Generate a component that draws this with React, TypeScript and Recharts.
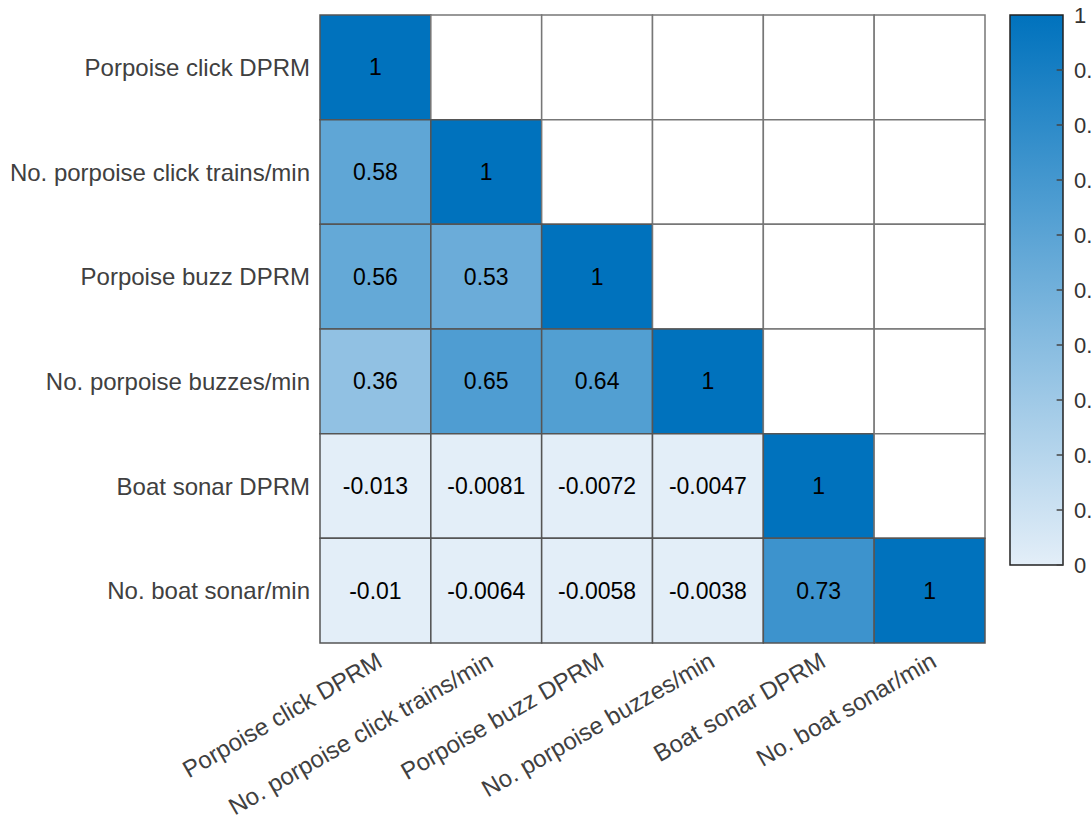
import { ComposedChart, XAxis, YAxis, ReferenceArea, ReferenceLine, Scatter } from 'recharts'

const labels = [
  'Porpoise click DPRM',
  'No. porpoise click trains/min',
  'Porpoise buzz DPRM',
  'No. porpoise buzzes/min',
  'Boat sonar DPRM',
  'No. boat sonar/min',
]

// lower triangle of the correlation matrix, row by row
const row0 = [1]
const row1 = [0.58, 1]
const row2 = [0.56, 0.53, 1]
const row3 = [0.36, 0.65, 0.64, 1]
const row4 = [-0.013, -0.0081, -0.0072, -0.0047, 1]
const row5 = [-0.01, -0.0064, -0.0058, -0.0038, 0.73, 1]
const rows = [row0, row1, row2, row3, row4, row5]

const cellTicks = [0.5, 1.5, 2.5, 3.5, 4.5, 5.5]
const cbTicks = [0, 0.1, 0.2, 0.3, 0.4, 0.5, 0.6, 0.7, 0.8, 0.9, 1]

const LOW = [227, 238, 248]
const HIGH = [0, 114, 189]

function color(v: number) {
  const t = Math.max(0, Math.min(1, v))
  const c = LOW.map((l, i) => Math.round(l + (HIGH[i] - l) * t))
  return `rgb(${c[0]},${c[1]},${c[2]})`
}

const font = '"Liberation Sans", Arial, Helvetica, sans-serif'
const n = labels.length

const points = rows.flatMap((row, r) => row.map((v, c) => ({ x: c + 0.5, y: r + 0.5, v })))
const cbPoints = cbTicks.map((t) => ({ x: 0.5, y: t }))

export default function App() {
  const cells: any[] = []
  for (let r = 0; r < n; r++) {
    for (let c = 0; c < n; c++) {
      const v = c <= r ? rows[r][c] : null
      cells.push(
        <ReferenceArea key={`${r}-${c}`} x1={c} x2={c + 1} y1={r} y2={r + 1}
          fill={v === null ? '#fff' : color(v)} fillOpacity={1}
          stroke={v === null ? '#777' : '#555'} strokeWidth={1.5} ifOverflow="visible"
          label={v === null ? undefined : { value: String(v), position: 'center', fill: '#000', fontSize: 23, fontFamily: font }} />
      )
    }
  }

  return (
    <div style={{ position: 'fixed', left: 0, top: 0, width: 1091, height: 821, overflow: 'hidden', background: '#fff', fontFamily: font }}>
      <div style={{ position: 'absolute', left: 0, top: 0 }}>
        <ComposedChart width={1091} height={821} data={points} margin={{ top: 15, right: 106, left: 0, bottom: 0 }}>
          <XAxis type="number" dataKey="x" domain={[0, n]} ticks={cellTicks} interval={0}
            tickFormatter={(v) => labels[Math.floor(v)]} height={178} tickSize={0} tickMargin={8}
            axisLine={false} tickLine={false} angle={-30} textAnchor="end"
            tick={{ fontSize: 24, fill: '#404040', fontFamily: font }} />
          <YAxis type="number" dataKey="y" domain={[0, n]} reversed ticks={cellTicks} interval={0}
            tickFormatter={(v) => labels[Math.floor(v)]} width={320} tickSize={0} tickMargin={10}
            axisLine={false} tickLine={false}
            tick={{ fontSize: 24, fill: '#404040', fontFamily: font }} />
          {cells}
          <Scatter data={points} dataKey="y" fill="none" shape={() => <g />} isAnimationActive={false} />
        </ComposedChart>
      </div>
      <div style={{ position: 'absolute', left: 1000, top: 0 }}>
        <ComposedChart width={140} height={600} data={cbPoints} margin={{ top: 15, right: 0, left: 10, bottom: 35 }}>
          <defs>
            <linearGradient id="cbGrad" x1="0" y1="0" x2="0" y2="1">
              <stop offset="0%" stopColor={color(1)} />
              <stop offset="100%" stopColor={color(0)} />
            </linearGradient>
          </defs>
          <XAxis type="number" dataKey="x" domain={[0, 1]} hide />
          <YAxis type="number" dataKey="y" orientation="right" domain={[0, 1]} ticks={cbTicks} interval={0}
            width={77} tickSize={0} tickMargin={11} axisLine={false} tickLine={false}
            tick={{ fontSize: 22, fill: '#333', fontFamily: font, textAnchor: 'start' }} />
          <ReferenceArea x1={0} x2={1} y1={0} y2={1} fill="url(#cbGrad)" fillOpacity={1}
            stroke="#222" strokeWidth={1.5} ifOverflow="visible" />
          {cbTicks.slice(0, -1).map((t) => (
            <ReferenceLine key={t} segment={[{ x: 0.88, y: t }, { x: 1, y: t }]} stroke="#444" strokeWidth={1.5} />
          ))}
          <Scatter data={cbPoints} dataKey="y" fill="none" shape={() => <g />} isAnimationActive={false} />
        </ComposedChart>
      </div>
    </div>
  )
}
